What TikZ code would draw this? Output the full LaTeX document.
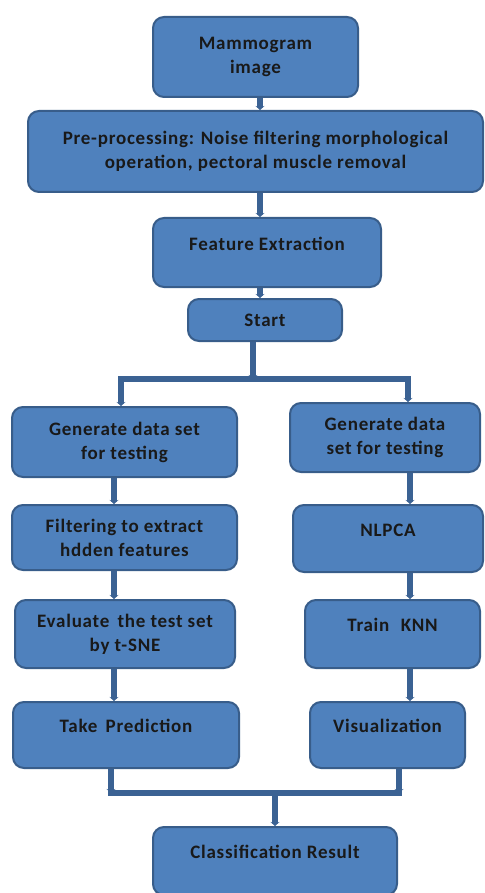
\documentclass[tikz,border=0pt]{standalone}
\usepackage{fontspec}
\setmainfont{Carlito}
\newfontfamily\boxfont[LetterSpace=4]{Carlito}
\usepackage{xcolor}
\usepackage{tikz}
\usetikzlibrary{shapes.geometric, arrows.meta, positioning, calc}
\definecolor{boxblue}{HTML}{4F81BD}
\definecolor{rimblue}{HTML}{385D8A}
\definecolor{linkblue}{HTML}{3B6293}
\tikzstyle{arrow} = [line width=5.5pt, draw=linkblue, -{Stealth[length=4pt,width=9pt]}]
\tikzstyle{bar} = [line width=5.5pt, draw=linkblue, line cap=rect]
\tikzstyle{block} = [rectangle, rounded corners=11pt, draw=rimblue, line width=2pt, fill=boxblue, text centered, align=center, font=\fontsize{19}{24}\boxfont\bfseries, text=black!90]
\tikzstyle{upper} = [text height=13pt, text depth=18pt]

\begin{document}
\begin{tikzpicture}[x=1pt, y=-1pt]
    \useasboundingbox (0,0) rectangle (484,893);

    % Main column
    \node[block, minimum width=205pt, minimum height=80pt] (mammo) at (255.5, 57) {Mammogram\\image};
    \node[block, minimum width=455pt, minimum height=81pt] (prep) at (255.5, 151.5) {Pre-processing: Noise filtering morphological\\operation, pectoral muscle removal};
    \node[block, upper, minimum width=228pt, minimum height=69pt] (feat) at (267, 252.5) {Feature Extraction};
    \node[block, minimum width=154pt, minimum height=42pt] (start) at (265, 320) {Start};

    % Left branch
    \node[block, minimum width=225pt, minimum height=70pt] (genL) at (124.5, 442) {Generate data set\\for testing};
    \node[block, minimum width=225pt, minimum height=65pt] (filt) at (124.5, 537.5) {Filtering to extract\\hdden features};
    \node[block, minimum width=220pt, minimum height=68pt] (eval) at (125, 634) {Evaluate\, the test set\\by t-SNE};
    \node[block, upper, minimum width=226pt, minimum height=66pt] (pred) at (126, 735) {Take\, Prediction};

    % Right branch
    \node[block, minimum width=190pt, minimum height=69pt] (genR) at (385, 437.5) {Generate data\\set for testing};
    \node[block, upper, minimum width=190pt, minimum height=67pt] (nlpca) at (388, 538.5) {NLPCA};
    \node[block, upper, minimum width=175pt, minimum height=68pt] (knn) at (392.5, 634) {Train\,\, KNN};
    \node[block, upper, minimum width=155pt, minimum height=66pt] (vis) at (387.5, 735) {Visualization};

    % Output
    \node[block, upper, minimum width=244pt, minimum height=68pt] (result) at (275, 861) {Classification Result};

    % Junctions
    \coordinate (colM) at (260, 0);
    \coordinate (colL) at (114, 0);
    \coordinate (colR) at (410, 0);
    \coordinate (fork) at (253, 379);
    \coordinate (forkL) at (121, 379);
    \coordinate (forkR) at (408, 379);
    \coordinate (join) at (275, 793);
    \coordinate (joinL) at (111, 793);
    \coordinate (joinR) at (399, 793);

    % Arrows
    \draw[arrow] (mammo.south -| colM) -- (prep.north -| colM);
    \draw[arrow] (prep.south -| colM) -- (feat.north -| colM);
    \draw[arrow] (feat.south -| colM) -- (start.north -| colM);
    \draw[arrow] (start.south -| fork) -- (fork);
    \draw[bar] (forkL) -- (forkR);
    \draw[arrow] (forkL) -- (forkL |- genL.north);
    \draw[arrow] (forkR) -- (forkR |- genR.north);
    \draw[arrow] (genL.south -| colL) -- (filt.north -| colL);
    \draw[arrow] (filt.south -| colL) -- (eval.north -| colL);
    \draw[arrow] (eval.south -| colL) -- (pred.north -| colL);
    \draw[arrow] (genR.south -| colR) -- (nlpca.north -| colR);
    \draw[arrow] (nlpca.south -| colR) -- (knn.north -| colR);
    \draw[arrow] (knn.south -| colR) -- (vis.north -| colR);
    \draw[arrow] (pred.south -| joinL) -- (joinL);
    \draw[arrow] (vis.south -| joinR) -- (joinR);
    \draw[bar] (joinL) -- (joinR);
    \draw[arrow] (join) -- (join |- result.north);
\end{tikzpicture}
\end{document}
